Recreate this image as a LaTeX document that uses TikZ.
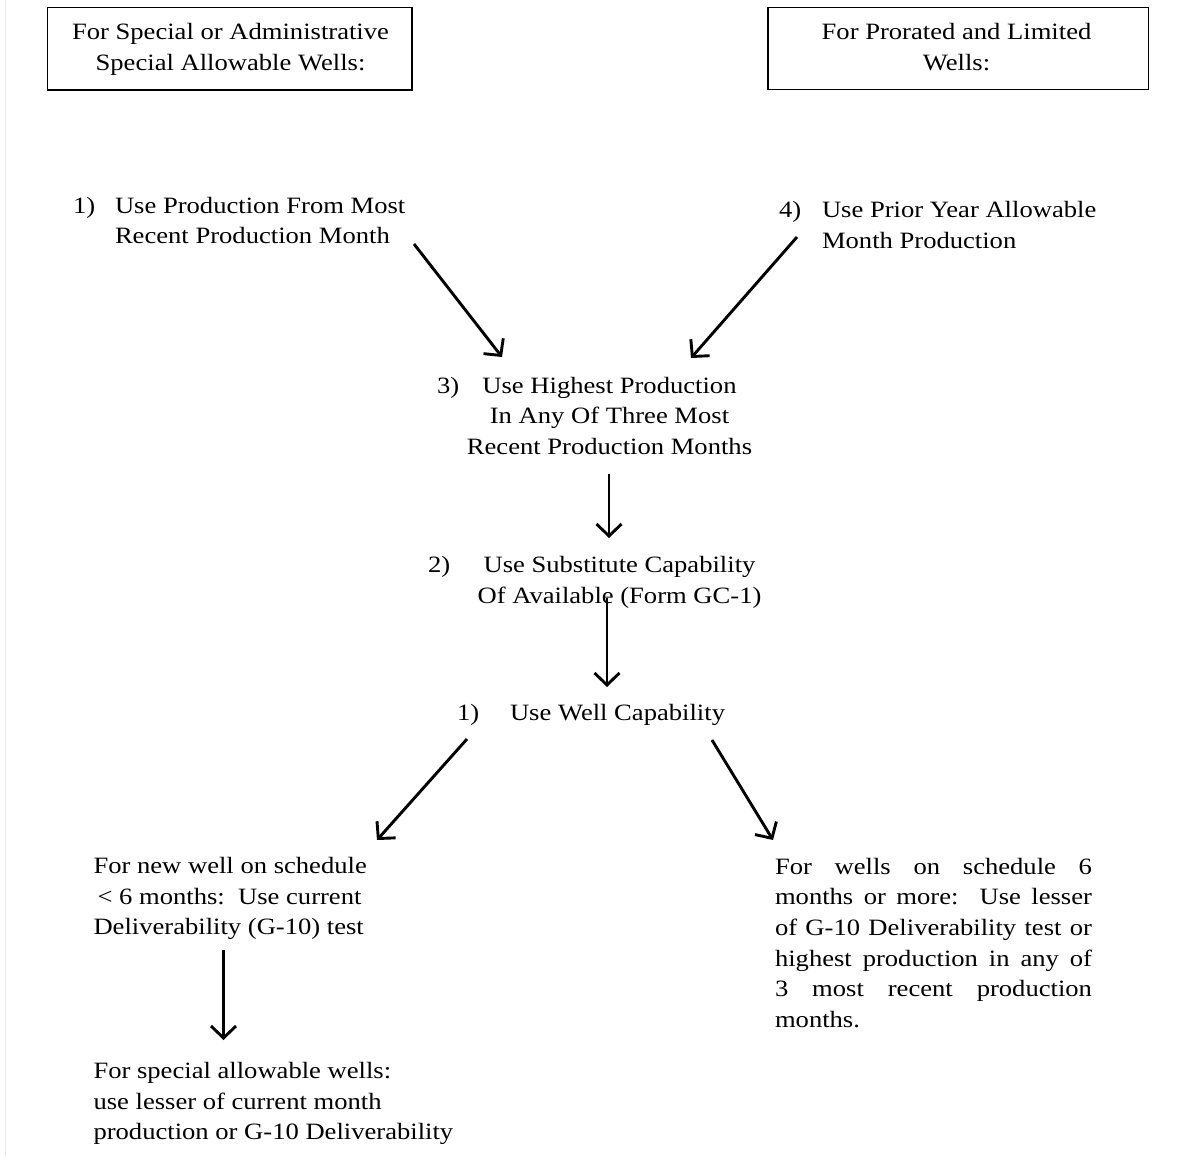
\documentclass[tikz,border=0pt]{standalone}
\usepackage{fontspec}
\setmainfont{Liberation Serif}
\usetikzlibrary{arrows.meta}
\newcommand\vsq[1]{\scalebox{1}[0.88]{#1}}
\newcommand\myfnt{\fontsize{26.6}{34.9}\selectfont}
\tikzset{
  txt/.style={inner sep=0pt, outer sep=0pt, font=\myfnt},
  hdbox/.style={draw, line width=1.5pt, inner sep=0pt, fill=none},
  arr/.style={line width=2.9pt, -{Straight Barb[length=12pt,width=25pt,line width=2.9pt]}}
}
\begin{document}
\begin{tikzpicture}[x=1pt,y=-1pt]
\useasboundingbox (0,0) rectangle (1202,1157);
\fill[white] (0,0) rectangle (1202,1157);
\draw[black!8, line width=1pt] (5,0) -- (5,1157);

% header boxes
\node[hdbox, minimum width=364.5pt, minimum height=82.5pt] (B1) at (229.75,48.75) {};
\node[txt, anchor=base] (B1t) at (230.5,39.5) {\vsq{\begin{tabular}[t]{@{}c@{}}For Special or Administrative\\Special Allowable Wells:\end{tabular}}};
\node[hdbox, minimum width=380.5pt, minimum height=82pt] (B2) at (958.25,48.5) {};
\node[txt, anchor=base] (B2t) at (956.5,39.5) {\vsq{\begin{tabular}[t]{@{}c@{}}For Prorated and Limited\\Wells:\end{tabular}}};

% step 1 (top left)
\node[txt, anchor=base west] (n1a) at (73,213) {\vsq{1)}};
\node[txt, anchor=base west] (n1) at (115,213) {\vsq{\begin{tabular}[t]{@{}l@{}}Use Production From Most\\Recent Production Month\end{tabular}}};

% step 4 (top right)
\node[txt, anchor=base west] (n4a) at (779,217.5) {\vsq{4)}};
\node[txt, anchor=base west] (n4) at (822,217.5) {\vsq{\begin{tabular}[t]{@{}l@{}}Use Prior Year Allowable\\Month Production\end{tabular}}};

% step 3
\node[txt, anchor=base west] (n3a) at (437,393) {\vsq{3)}};
\node[txt, anchor=base] (n3) at (609.5,393) {\vsq{\begin{tabular}[t]{@{}c@{}}Use Highest Production\\In Any Of Three Most\\Recent Production Months\end{tabular}}};

% step 2
\node[txt, anchor=base west] (n2a) at (428,572.5) {\vsq{2)}};
\node[txt, anchor=base] (n2) at (619.5,572.5) {\vsq{\begin{tabular}[t]{@{}c@{}}Use Substitute Capability\\Of Available (Form GC-1)\end{tabular}}};

% step 1 well capability
\node[txt, anchor=base west] (w1a) at (457,720.5) {\vsq{1)}};
\node[txt, anchor=base west] (w1) at (510,720.5) {\vsq{Use Well Capability}};

% left branch
\node[txt, anchor=base west] (L1) at (93.5,873.5) {\vsq{\begin{tabular}[t]{@{}l@{}}For new well on schedule\\\hspace{4pt}{<} 6 months:\ \ Use current\\Deliverability (G-10) test\end{tabular}}};
\node[txt, anchor=base west] (L2) at (93.5,1078.5) {\vsq{\begin{tabular}[t]{@{}l@{}}For special allowable wells:\\use lesser of current month\\production or G-10 Deliverability\end{tabular}}};

% right branch
\node[txt, anchor=base west] (R1) at (775,874) {\vsq{\begin{tabular}[t]{@{}l@{}}\makebox[317pt][s]{For wells on schedule 6}\\\makebox[317pt][s]{months or more:\ \ Use lesser}\\\makebox[317pt][s]{of G-10 Deliverability test or}\\\makebox[317pt][s]{highest production in any of}\\\makebox[317pt][s]{3 most recent production}\\months.\end{tabular}}};

% connector end points
\coordinate (a1s) at (414,244);  \coordinate (a1e) at (502,357);
\coordinate (a2s) at (797,237);  \coordinate (a2e) at (691,358);
\coordinate (a3s) at (609,474);  \coordinate (a3e) at (609,538);
\coordinate (a4s) at (607,598);  \coordinate (a4e) at (607,687);
\coordinate (a5s) at (467,739);  \coordinate (a5e) at (377,840);
\coordinate (a6s) at (712,740);  \coordinate (a6e) at (773,840);
\coordinate (a7s) at (223.5,950); \coordinate (a7e) at (223.5,1040);

\draw[arr] (a1s) -- (a1e);
\draw[arr] (a2s) -- (a2e);
\draw[arr] (a3s) -- (a3e);
\draw[arr] (a4s) -- (a4e);
\draw[arr] (a5s) -- (a5e);
\draw[arr] (a6s) -- (a6e);
\draw[arr] (a7s) -- (a7e);
\end{tikzpicture}
\end{document}
